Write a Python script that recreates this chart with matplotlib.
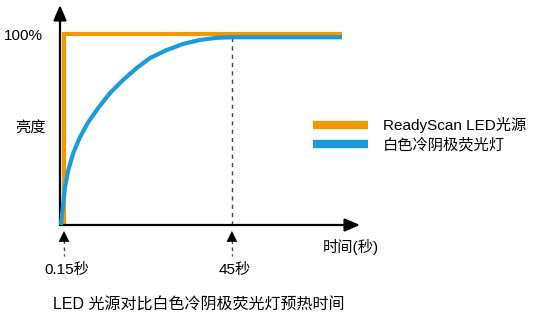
import matplotlib
matplotlib.use("Agg")
import matplotlib.pyplot as plt
from matplotlib.lines import Line2D
from matplotlib.transforms import blended_transform_factory

plt.rcParams['font.family'] = ['Liberation Sans', 'Noto Sans CJK SC', 'DejaVu Sans']

# ---- data (schematic time scale 0..100, brightness in %) ----
led_time = [1.33, 1.33, 94]
led_brightness = [0, 100, 100]

ccfl_time = [0.3, 1.1, 1.67, 2.77, 4.43, 6.67, 9.43, 12.77, 16.67, 21, 25.57, 30,
             35.57, 41, 46.67, 52.23, 57.3, 94]
ccfl_brightness = [0, 11.5, 19.9, 28.8, 37.7, 46.1, 53.9, 61.3, 69.1, 75.9, 82.2, 87.4,
                   91.6, 94.8, 96.9, 98.0, 98.3, 98.3]

tick_positions = [1.33, 57.3]
tick_labels = ['0.15秒', '45秒']

series_names = ['ReadyScan LED光源', '白色冷阴极荧光灯']
colors = ['#F39800', '#1A9CDB']

W, H = 541, 320
fig = plt.figure(figsize=(W / 100, H / 100), dpi=100)
left, right, bottom, top = 60, 360, 225, 5
ax = fig.add_axes([left / W, 1 - bottom / H, (right - left) / W, (bottom - top) / H])
ax.set_xlim(0, 100)
ax.set_ylim(0, (bottom - top) / 1.91)
for s in ax.spines.values():
    s.set_visible(False)
ax.set_xticks([])
ax.set_yticks([])

# axes with arrows
arr = dict(arrowstyle='-|>,head_length=0.7,head_width=0.3', lw=1.6, color='black',
           mutation_scale=13, shrinkA=0, shrinkB=0)
ax.annotate('', xy=(1, 0), xytext=(0, 0), xycoords='axes fraction', arrowprops=arr)
ax.annotate('', xy=(0, 1), xytext=(0, 0), xycoords='axes fraction', arrowprops=arr)

# dashed line at 45 s
ax.plot([tick_positions[1], tick_positions[1]], [0, ccfl_brightness[-1]],
        color='#444444', lw=1, dashes=(3, 3), zorder=1)

ax.plot(ccfl_time, ccfl_brightness, color=colors[1], lw=3, zorder=3,
        solid_joinstyle='round', solid_capstyle='butt', clip_on=False)
ax.plot(led_time, led_brightness, color=colors[0], lw=3, zorder=2,
        solid_joinstyle='miter', solid_capstyle='butt', clip_on=False)

# tick arrows + labels under x axis
bt = blended_transform_factory(ax.transData, fig.transFigure)
for t, lab in zip(tick_positions, tick_labels):
    ax.plot([t, t], [1 - 240 / H, 1 - 256 / H], transform=bt, color='#444444',
            lw=1, dashes=(2.5, 2.5), clip_on=False)
    ax.annotate('', xy=(t, 1 - 231 / H), xytext=(t, 1 - 241 / H), xycoords=bt,
                arrowprops=dict(arrowstyle='-|>,head_length=0.6,head_width=0.3', lw=0.01,
                                color='black', mutation_scale=13, shrinkA=0, shrinkB=0))
    ax.text(t + 0.8, 1 - 270 / H, lab, transform=bt, ha='center', va='center', fontsize=11)

# text labels
fig.text(43 / W, 1 - 36 / H, '100%', ha='right', va='center', fontsize=11)
fig.text(30 / W, 1 - 128 / H, '亮度', ha='center', va='center', fontsize=11)
fig.text(351 / W, 1 - 247 / H, '时间(秒)', ha='center', va='center', fontsize=11)
fig.text(199 / W, 1 - 304 / H, 'LED 光源对比白色冷阴极荧光灯预热时间', ha='center',
         va='center', fontsize=11.5)

handles = [Line2D([0], [0], color=c, lw=6, solid_capstyle='butt') for c in colors]
fig.legend(handles, series_names, loc='upper left',
           bbox_to_anchor=(313 / W, 1 - 117 / H), frameon=False, fontsize=11,
           handlelength=3.6, handletextpad=0.95, labelspacing=0.32, borderpad=0,
           borderaxespad=0)

fig.savefig('out.png', dpi=100)
